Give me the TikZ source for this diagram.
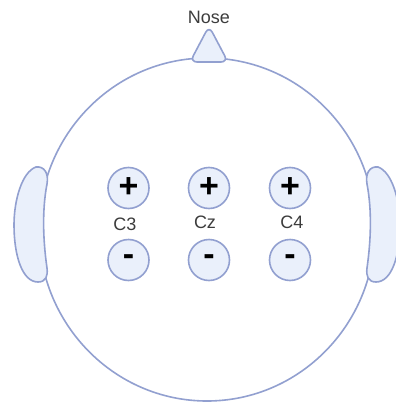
\documentclass[tikz,border=0pt]{standalone}
\usepackage{fontspec}
\setmainfont{Liberation Sans}
\definecolor{rim}{RGB}{146,160,208}
\definecolor{skin}{RGB}{234,240,251}
\definecolor{labelgray}{RGB}{60,60,60}
\begin{document}
\begin{tikzpicture}[x=1pt,y=-1pt,
  outline/.style={draw=rim, line width=1.6pt},
  part/.style={outline, fill=skin},
  electrode/.style={circle, draw=rim, line width=1.6pt, fill=skin, minimum size=41pt, inner sep=0pt,
    font=\fontsize{34}{34}\selectfont\bfseries, text=black},
  sitelabel/.style={font=\fontsize{18}{20}\selectfont, text=labelgray}]
\useasboundingbox (0,0) rectangle (396,407);
% head
\draw[outline, fill=white] (207,229.5) ellipse [x radius=168, y radius=171.5];
% nose
\draw[part, rounded corners=7pt] (209,26) -- (228,62) -- (190,62) -- cycle;
\node[sitelabel] (nose) at (209,17) {Nose};
% ears
\draw[part] (36,167) .. controls (22,172) and (14,200) .. (14,225)
  .. controls (14,255) and (22,282) .. (38,282)
  .. controls (46,282) and (48,276) .. (47,268)
  .. controls (43,240) and (42,210) .. (47,184)
  .. controls (49,173) and (44,166) .. (36,167) -- cycle;
\begin{scope}[xshift=414pt, xscale=-1]
\draw[part] (36,167) .. controls (22,172) and (14,200) .. (14,225)
  .. controls (14,255) and (22,282) .. (38,282)
  .. controls (46,282) and (48,276) .. (47,268)
  .. controls (43,240) and (42,210) .. (47,184)
  .. controls (49,173) and (44,166) .. (36,167) -- cycle;
\end{scope}
% electrodes
\node[electrode] (c3p) at (128.5,188) {+};
\node[electrode] (czp) at (209,188) {+};
\node[electrode] (c4p) at (290,188) {+};
\node[electrode] (c3m) at (128.5,260) {-};
\node[electrode] (czm) at (209,260) {-};
\node[electrode] (c4m) at (290,260) {-};
\node[sitelabel] (c3) at (125,224) {C3};
\node[sitelabel] (cz) at (205,222) {Cz};
\node[sitelabel] (c4) at (292,222) {C4};
\end{tikzpicture}
\end{document}
